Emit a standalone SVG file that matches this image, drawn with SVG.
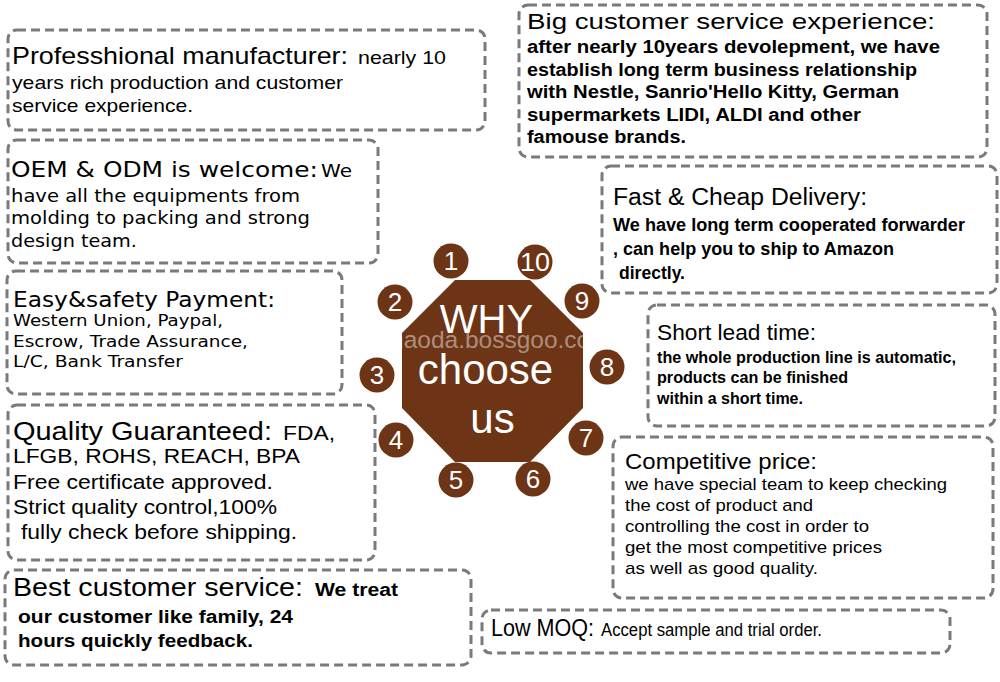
<svg xmlns="http://www.w3.org/2000/svg" width="1000" height="682" viewBox="0 0 1000 682">
<style>
.box{fill:none;stroke:#7a7a7a;stroke-width:3;stroke-dasharray:9 5}
.t{font-family:"Liberation Sans",Arial,sans-serif;fill:#000}
.v{font-family:"DejaVu Sans",Verdana,sans-serif;fill:#000}
.b{font-weight:bold}
.num{fill:#6D3416}
.nt{font-family:"Liberation Sans",Arial,sans-serif;fill:#fff;font-size:26px;text-anchor:middle}
.ct{font-family:"Liberation Sans",Arial,sans-serif;fill:#fff;text-anchor:middle}
</style>
<defs>
<clipPath id="octClip"><polygon points="455,280 530,280 583,333 583,408 530,462 455,462 402,408 402,333"/></clipPath>
</defs>
<rect width="1000" height="682" fill="#fff"/>
<g id="connectors"/>

<g id="box-professional">
<rect class="box" x="8" y="30" width="477" height="100" rx="9"/>
<text class="t" x="12" y="64" font-size="24" textLength="336" lengthAdjust="spacingAndGlyphs">Professhional manufacturer:</text>
<text class="t" x="358" y="64" font-size="19" textLength="88" lengthAdjust="spacingAndGlyphs">nearly 10</text>
<text class="t" x="12" y="89" font-size="19" textLength="331" lengthAdjust="spacingAndGlyphs">years rich production and customer</text>
<text class="t" x="12" y="112" font-size="19" textLength="181" lengthAdjust="spacingAndGlyphs">service experience.</text>
</g>

<g id="box-oem">
<rect class="box" x="8" y="140" width="370" height="123" rx="9"/>
<text class="v" x="11" y="177" font-size="22" textLength="307" lengthAdjust="spacingAndGlyphs">OEM &amp; ODM is welcome:</text>
<text class="v" x="321" y="177" font-size="17" textLength="31" lengthAdjust="spacingAndGlyphs">We</text>
<text class="v" x="11" y="202" font-size="17.5" textLength="289" lengthAdjust="spacingAndGlyphs">have all the equipments from</text>
<text class="v" x="11" y="224" font-size="17.5" textLength="299" lengthAdjust="spacingAndGlyphs">molding to packing and strong</text>
<text class="v" x="11" y="247" font-size="17.5" textLength="126" lengthAdjust="spacingAndGlyphs">design team.</text>
</g>

<g id="box-payment">
<rect class="box" x="7" y="271" width="335" height="123" rx="9"/>
<text class="v" x="13" y="307" font-size="21" textLength="262" lengthAdjust="spacingAndGlyphs">Easy&amp;safety Payment:</text>
<text class="v" x="13" y="326" font-size="16" textLength="210" lengthAdjust="spacingAndGlyphs">Western Union, Paypal,</text>
<text class="v" x="13" y="347" font-size="16" textLength="235" lengthAdjust="spacingAndGlyphs">Escrow, Trade Assurance,</text>
<text class="v" x="13" y="367" font-size="16" textLength="170" lengthAdjust="spacingAndGlyphs">L/C, Bank Transfer</text>
</g>

<g id="box-quality">
<rect class="box" x="8" y="405" width="367" height="155" rx="9"/>
<text class="t" x="13" y="440" font-size="26" textLength="259" lengthAdjust="spacingAndGlyphs">Quality Guaranteed:</text>
<text class="t" x="283" y="440" font-size="21" textLength="52" lengthAdjust="spacingAndGlyphs">FDA,</text>
<text class="t" x="13" y="463" font-size="21" textLength="287" lengthAdjust="spacingAndGlyphs">LFGB, ROHS, REACH, BPA</text>
<text class="t" x="13" y="489" font-size="20" textLength="260" lengthAdjust="spacingAndGlyphs">Free certificate approved.</text>
<text class="t" x="13" y="514" font-size="20" textLength="264" lengthAdjust="spacingAndGlyphs">Strict quality control,100%</text>
<text class="t" x="21" y="539" font-size="20" textLength="276" lengthAdjust="spacingAndGlyphs">fully check before shipping.</text>
</g>

<g id="box-best-service">
<rect class="box" x="5" y="570" width="466" height="95" rx="9"/>
<text class="t" x="13" y="596" font-size="25" textLength="290" lengthAdjust="spacingAndGlyphs">Best customer service:</text>
<text class="t b" x="315" y="596" font-size="18" textLength="83" lengthAdjust="spacingAndGlyphs">We treat</text>
<text class="t b" x="18" y="623" font-size="18" textLength="275" lengthAdjust="spacingAndGlyphs">our customer like family, 24</text>
<text class="t b" x="18" y="647" font-size="18" textLength="235" lengthAdjust="spacingAndGlyphs">hours quickly feedback.</text>
</g>

<g id="box-big-customer">
<rect class="box" x="519" y="5" width="468" height="152" rx="9"/>
<text class="t" x="527" y="29" font-size="22" textLength="408" lengthAdjust="spacingAndGlyphs">Big customer service experience:</text>
<text class="t b" x="527" y="53" font-size="17.5" textLength="413" lengthAdjust="spacingAndGlyphs">after nearly 10years devolepment, we have</text>
<text class="t b" x="527" y="76" font-size="17.5" textLength="390" lengthAdjust="spacingAndGlyphs">establish long term business relationship</text>
<text class="t b" x="527" y="98" font-size="17.5" textLength="372" lengthAdjust="spacingAndGlyphs">with Nestle, Sanrio'Hello Kitty, German</text>
<text class="t b" x="527" y="121" font-size="17.5" textLength="334" lengthAdjust="spacingAndGlyphs">supermarkets LIDI, ALDI and other</text>
<text class="t b" x="527" y="143" font-size="17.5" textLength="159" lengthAdjust="spacingAndGlyphs">famouse brands.</text>
</g>

<g id="box-delivery">
<rect class="box" x="602" y="166" width="395" height="127" rx="9"/>
<text class="t" x="613" y="205" font-size="23" textLength="254" lengthAdjust="spacingAndGlyphs">Fast &amp; Cheap Delivery:</text>
<text class="t b" x="613" y="231" font-size="18" textLength="352" lengthAdjust="spacingAndGlyphs">We have long term cooperated forwarder</text>
<text class="t b" x="613" y="255" font-size="18" textLength="281" lengthAdjust="spacingAndGlyphs">, can help you to ship to Amazon</text>
<text class="t b" x="619" y="279" font-size="18" textLength="66" lengthAdjust="spacingAndGlyphs">directly.</text>
</g>

<g id="box-lead-time">
<rect class="box" x="648" y="305" width="347" height="121" rx="9"/>
<text class="t" x="657" y="340" font-size="22" textLength="159" lengthAdjust="spacingAndGlyphs">Short lead time:</text>
<text class="t b" x="657" y="363" font-size="16.5" textLength="299" lengthAdjust="spacingAndGlyphs">the whole production line is automatic,</text>
<text class="t b" x="657" y="383" font-size="16.5" textLength="191" lengthAdjust="spacingAndGlyphs">products can be finished</text>
<text class="t b" x="657" y="404" font-size="16.5" textLength="146" lengthAdjust="spacingAndGlyphs">within a short time.</text>
</g>

<g id="box-price">
<rect class="box" x="613" y="437" width="380" height="161" rx="9"/>
<text class="t" x="625" y="469" font-size="21.5" textLength="192" lengthAdjust="spacingAndGlyphs">Competitive price:</text>
<text class="t" x="625" y="490" font-size="17" textLength="322" lengthAdjust="spacingAndGlyphs">we have special team to keep checking</text>
<text class="t" x="625" y="511" font-size="17" textLength="188" lengthAdjust="spacingAndGlyphs">the cost of product and</text>
<text class="t" x="625" y="532" font-size="17" textLength="244" lengthAdjust="spacingAndGlyphs">controlling the cost in order to</text>
<text class="t" x="625" y="553" font-size="17" textLength="257" lengthAdjust="spacingAndGlyphs">get the most competitive prices</text>
<text class="t" x="625" y="574" font-size="17" textLength="193" lengthAdjust="spacingAndGlyphs">as well as good quality.</text>
</g>

<g id="box-moq">
<rect class="box" x="482" y="610" width="468" height="43" rx="9"/>
<text class="t" x="491" y="636" font-size="24" textLength="103" lengthAdjust="spacingAndGlyphs">Low MOQ:</text>
<text class="t" x="601" y="636" font-size="17.5" textLength="221" lengthAdjust="spacingAndGlyphs">Accept sample and trial order.</text>
</g>

<g id="center-why">
<polygon points="455,280 530,280 583,333 583,408 530,462 455,462 402,408 402,333" fill="#6D3416"/>
<text x="390" y="348" clip-path="url(#octClip)" font-family="Liberation Sans, Arial, sans-serif" font-size="24.5" fill="#fff" fill-opacity="0.45">haoda.bossgoo.com</text>
<text class="ct" x="486.5" y="333" font-size="40">WHY</text>
<text class="ct" x="485.5" y="384" font-size="42">choose</text>
<text class="ct" x="492.5" y="433" font-size="42">us</text>
</g>

<g id="n1"><circle class="num" cx="451" cy="261" r="17.5"/><text class="nt" x="451" y="270">1</text></g>
<g id="n2"><circle class="num" cx="395" cy="302" r="17.5"/><text class="nt" x="395" y="311">2</text></g>
<g id="n3"><circle class="num" cx="377" cy="375" r="17.5"/><text class="nt" x="377" y="384">3</text></g>
<g id="n4"><circle class="num" cx="396" cy="440" r="17.5"/><text class="nt" x="396" y="449">4</text></g>
<g id="n5"><circle class="num" cx="456" cy="480" r="17.5"/><text class="nt" x="456" y="489">5</text></g>
<g id="n6"><circle class="num" cx="533" cy="479" r="17.5"/><text class="nt" x="533" y="488">6</text></g>
<g id="n7"><circle class="num" cx="586" cy="438" r="17.5"/><text class="nt" x="586" y="447">7</text></g>
<g id="n8"><circle class="num" cx="607" cy="367" r="17.5"/><text class="nt" x="607" y="376">8</text></g>
<g id="n9"><circle class="num" cx="582" cy="301" r="17.5"/><text class="nt" x="582" y="310">9</text></g>
<g id="n10"><circle class="num" cx="535" cy="262" r="17.5"/><text class="nt" x="535" y="271" textLength="30" lengthAdjust="spacingAndGlyphs">10</text></g>
</svg>
